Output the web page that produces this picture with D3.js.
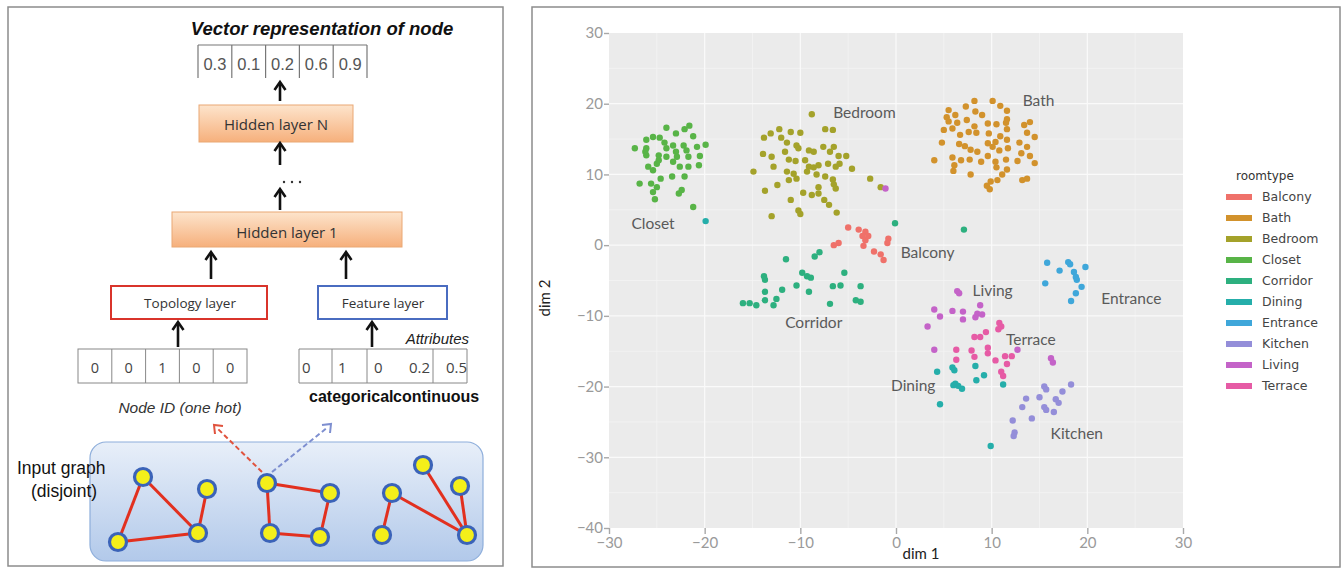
<!DOCTYPE html>
<html><head><meta charset="utf-8">
<script src="https://cdn.jsdelivr.net/npm/d3@7/dist/d3.min.js"></script>
<style>body{margin:0;background:#fff}svg{display:block}</style></head>
<body>
<svg id="c" width="1343" height="569"></svg>
<script>
// ---------------- DATA (t-SNE embedding) ----------------
const categories = ["Balcony","Bath","Bedroom","Closet","Corridor","Dining","Entrance","Kitchen","Living","Terrace"];
const colors = ["#EF716A","#D2922C","#A4A22A","#58B447","#2DB07F","#25AEAA","#3FA7DA","#948ED9","#C463C8","#E65BA5"];

const balcony = [[-5.0,2.5],[-3.9,2.2],[-3.2,1.9],[-3.5,1.3],[-3.2,0.7],[-3.4,-0.1],[-6.5,0.0],[-6.0,0.3],[-2.3,-0.9],[-1.6,-1.3],[-1.3,-2.1],[-0.8,0.9],[-0.9,0.3],[-2.9,1.3]];
const bath = [[5.5,19.1],[6.2,18.4],[7.3,19.6],[8.2,20.4],[10.1,20.4],[10.9,19.7],[11.6,19.0],[8.3,18.9],[9.0,18.4],[6.4,17.3],[7.4,17.7],[8.2,16.8],[9.6,17.2],[10.5,17.1],[11.6,17.8],[11.5,17.3],[11.6,16.4],[13.4,17.0],[14.0,17.4],[13.7,15.9],[14.5,15.3],[5.0,16.3],[5.9,16.5],[6.7,15.6],[7.6,16.0],[8.4,15.9],[9.7,15.8],[10.9,15.4],[11.6,14.9],[4.8,14.5],[6.6,14.3],[7.2,14.0],[7.8,13.5],[8.5,13.2],[9.6,14.4],[10.1,13.9],[10.4,14.6],[10.8,13.4],[11.7,13.7],[12.9,14.5],[13.7,13.9],[13.1,13.0],[14.0,12.6],[14.5,11.6],[4.0,12.0],[5.9,12.4],[6.8,12.0],[7.7,12.1],[8.9,11.8],[9.6,12.6],[10.4,11.8],[11.5,12.1],[12.7,11.9],[6.1,11.3],[6.0,10.5],[10.5,11.0],[11.6,10.7],[7.8,10.0],[11.1,10.0],[9.9,9.0],[10.6,9.2],[9.5,8.4],[9.8,7.9],[13.2,9.2],[13.7,9.4],[5.3,18.1],[5.5,17.5]];
const bedroom = [[-8.8,18.5],[-13.8,15.2],[-13.1,15.8],[-12.2,16.4],[-11.0,16.0],[-10.0,15.9],[-7.4,16.4],[-6.6,16.3],[-12.0,15.2],[-11.4,14.5],[-10.4,14.1],[-10.2,13.7],[-9.1,13.4],[-8.6,13.2],[-7.6,13.9],[-6.5,13.9],[-6.9,13.2],[-6.0,12.6],[-5.2,12.6],[-5.9,11.5],[-4.6,10.8],[-13.9,12.9],[-13.0,12.5],[-11.6,13.2],[-11.2,12.1],[-10.5,11.9],[-9.5,12.0],[-9.1,11.1],[-8.6,11.0],[-8.1,11.3],[-7.1,11.5],[-6.3,11.1],[-14.9,10.4],[-12.8,11.1],[-11.4,10.4],[-10.7,10.1],[-9.3,10.4],[-8.3,10.0],[-7.4,9.7],[-6.6,9.3],[-6.5,8.6],[-6.3,8.0],[-13.7,7.7],[-12.4,8.5],[-11.2,9.2],[-10.4,9.4],[-9.7,7.4],[-8.8,7.1],[-8.1,8.2],[-8.1,7.3],[-7.5,6.4],[-7.0,5.7],[-11.0,6.4],[-10.2,4.9],[-10.0,4.4],[-13.0,4.1],[-6.2,4.6],[-2.7,9.4],[-1.6,8.2]];
const closet = [[-27.3,13.7],[-26.1,14.9],[-26.1,13.7],[-25.4,15.3],[-24.7,15.2],[-24.0,16.6],[-23.0,15.8],[-22.1,16.4],[-21.6,16.9],[-21.2,15.4],[-24.2,14.5],[-24.0,13.7],[-23.3,14.1],[-23.0,13.2],[-22.2,14.1],[-21.9,13.4],[-21.7,12.5],[-20.8,13.9],[-19.9,14.2],[-20.5,12.6],[-20.6,11.3],[-25.9,11.1],[-25.0,11.5],[-25.4,10.6],[-24.0,12.5],[-22.9,12.5],[-22.6,11.1],[-24.6,9.4],[-23.4,9.7],[-22.1,9.7],[-26.8,8.7],[-25.6,8.7],[-25.0,8.2],[-25.4,7.5],[-25.2,6.5],[-22.4,7.8],[-22.7,7.3],[-21.2,5.4],[-26.1,12.7],[-24.8,12.7],[-24.8,12.0],[-23.3,11.8],[-21.7,11.1],[-26.2,13.2]];
const corridor = [[-8.0,-1.0],[-8.5,-1.6],[-11.5,-2.0],[-13.8,-4.4],[-13.7,-4.9],[-9.8,-3.9],[-9.3,-4.4],[-8.9,-4.6],[-10.4,-5.7],[-5.4,-3.9],[-6.6,-5.8],[-5.8,-5.7],[-3.7,-5.8],[-11.9,-6.3],[-12.5,-7.6],[-9.1,-6.6],[-13.7,-6.6],[-16.0,-8.2],[-15.3,-8.2],[-14.6,-8.5],[-13.7,-7.8],[-12.8,-8.5],[-6.9,-8.3],[-4.2,-7.8],[-3.7,-8.0],[-0.1,3.1],[7.1,2.2]];
const dining = [[-19.9,3.4],[4.3,-17.9],[5.9,-17.3],[6.1,-17.7],[8.3,-17.1],[9.2,-18.4],[8.4,-19.1],[6.2,-19.6],[6.5,-19.9],[6.9,-20.3],[6.0,-19.8],[11.2,-19.7],[4.6,-22.5],[9.9,-28.4]];
const entrance = [[15.8,-2.5],[17.1,-3.6],[18.0,-2.4],[18.2,-2.7],[18.6,-3.8],[18.8,-4.5],[18.9,-4.9],[19.8,-3.1],[15.6,-5.4],[19.4,-5.9],[18.8,-6.8],[18.3,-7.9]];
const kitchen = [[18.3,-19.7],[15.5,-20.0],[15.7,-20.4],[17.4,-20.7],[13.6,-21.7],[15.0,-21.5],[16.7,-21.8],[17.0,-22.3],[13.2,-22.9],[15.5,-22.9],[15.7,-23.3],[16.5,-23.6],[14.2,-24.5],[12.2,-24.8],[12.4,-26.5],[12.3,-27.0]];
const living = [[-1.1,8.0],[6.4,-6.5],[6.6,-6.8],[8.8,-8.5],[4.0,-9.1],[4.6,-10.1],[5.9,-9.3],[7.0,-9.4],[7.0,-10.5],[8.5,-9.7],[9.0,-9.8],[8.3,-10.2],[3.3,-11.5],[4.0,-14.8],[12.7,-14.8],[16.2,-16.0],[16.4,-16.6]];
const terrace = [[10.8,-11.0],[11.0,-11.5],[10.7,-11.9],[8.2,-13.0],[8.8,-13.0],[9.4,-12.3],[6.3,-14.8],[6.3,-16.2],[7.9,-14.9],[8.2,-15.8],[9.6,-14.5],[9.6,-15.3],[10.4,-16.3],[11.4,-15.7],[12.1,-15.7],[11.6,-16.8],[11.0,-17.9],[11.2,-18.5]];

const xTicks = [-30,-20,-10,0,10,20,30];
const yTicks = [-40,-30,-20,-10,0,10,20,30];
const labelNames = ["Closet","Bedroom","Bath","Balcony","Living","Entrance","Corridor","Terrace","Dining","Kitchen"];
const labelX = [-25.4,-3.3,14.9,3.3,10.1,24.6,-8.6,14.1,1.8,18.9];
const labelY = [3.1,18.7,20.4,-1.0,-6.4,-7.6,-11.0,-13.3,-19.9,-26.7];

const vectorValues = ["0.3","0.1","0.2","0.6","0.9"];
const oneHot = ["0","0","1","0","0"];
const attrValues = ["0","1","0","0.2","0.5"];

const seriesPts = [balcony,bath,bedroom,closet,corridor,dining,entrance,kitchen,living,terrace];

// ---------------- DRAW ----------------
const svg = d3.select("#c");
const defs = svg.append("defs");
const g1 = defs.append("linearGradient").attr("id","hid").attr("x1",0).attr("y1",0).attr("x2",0).attr("y2",1);
g1.append("stop").attr("offset","0%").attr("stop-color","#fde4cc");
g1.append("stop").attr("offset","100%").attr("stop-color","#f6b07c");
const g2 = defs.append("linearGradient").attr("id","inp").attr("x1",0).attr("y1",0).attr("x2",0).attr("y2",1);
g2.append("stop").attr("offset","0%").attr("stop-color","#e8eff9");
g2.append("stop").attr("offset","100%").attr("stop-color","#b2c9ea");

// frames
svg.append("rect").attr("x",8).attr("y",7).attr("width",495).attr("height",559).attr("fill","none").attr("stroke","#8c8c8c").attr("stroke-width",1.5);
svg.append("rect").attr("x",532).attr("y",7).attr("width",808).attr("height",560).attr("fill","none").attr("stroke","#8c8c8c").attr("stroke-width",1.5);

// ---------- left diagram ----------
const L = svg.append("g");
const sans = "'Liberation Sans', Arial, sans-serif";
const soft = "'Open Sans', 'Noto Sans', sans-serif";
L.append("text").attr("x",322).attr("y",35).attr("text-anchor","middle").attr("font-family",sans)
 .attr("font-size",18.5).attr("font-weight","bold").attr("font-style","italic").attr("fill","#111").text("Vector representation of node");

function arrow(x, y1, y2){
  L.append("line").attr("x1",x).attr("x2",x).attr("y1",y1).attr("y2",y2+2).attr("stroke","#111").attr("stroke-width",2.6);
  L.append("path").attr("d",`M${x-5.5},${y2+8} L${x},${y2} L${x+5.5},${y2+8}`).attr("fill","none").attr("stroke","#111").attr("stroke-width",2.6);
}
// output vector
const vx = d3.scaleLinear().domain([0,5]).range([198,367]);
L.append("line").attr("x1",198).attr("x2",367).attr("y1",45).attr("y2",45).attr("stroke","#777").attr("stroke-width",1.2);
d3.range(6).forEach(i=>L.append("line").attr("x1",vx(i)).attr("x2",vx(i)).attr("y1",45).attr("y2",78).attr("stroke","#777").attr("stroke-width",1.2));
vectorValues.forEach((v,i)=>L.append("text").attr("x",vx(i+0.5)).attr("y",70).attr("text-anchor","middle").attr("font-family",sans).attr("font-size",16.5).attr("fill","#555").text(v));
arrow(280,101,82);
L.append("rect").attr("x",199).attr("y",105).attr("width",154).attr("height",37).attr("fill","url(#hid)").attr("stroke","#eaa874").attr("stroke-width",1);
L.append("text").attr("x",276).attr("y",130).attr("text-anchor","middle").attr("font-family",soft).attr("font-size",15).attr("fill","#333").text("Hidden layer N");
arrow(280,165,143);
[284,292,300].forEach(x=>L.append("circle").attr("cx",x).attr("cy",182).attr("r",1.2).attr("fill","#333"));
arrow(280,210,189);
L.append("rect").attr("x",172).attr("y",212).attr("width",230).attr("height",35).attr("fill","url(#hid)").attr("stroke","#eaa874").attr("stroke-width",1);
L.append("text").attr("x",287).attr("y",238).attr("text-anchor","middle").attr("font-family",soft).attr("font-size",15).attr("fill","#333").text("Hidden layer 1");
arrow(211,279,252);
arrow(346,279,252);
L.append("rect").attr("x",111).attr("y",286).attr("width",156).attr("height",33).attr("fill","#fff").attr("stroke","#d9342b").attr("stroke-width",2);
L.append("text").attr("x",190).attr("y",308).attr("text-anchor","middle").attr("font-family",soft).attr("font-size",13.5).attr("fill","#333").text("Topology layer");
L.append("rect").attr("x",318).attr("y",286).attr("width",129).attr("height",33).attr("fill","#fff").attr("stroke","#4a6cc0").attr("stroke-width",2);
L.append("text").attr("x",383).attr("y",308).attr("text-anchor","middle").attr("font-family",soft).attr("font-size",13.5).attr("fill","#333").text("Feature layer");
arrow(178,347,322);
arrow(372,347,322);
L.append("text").attr("x",469).attr("y",344).attr("text-anchor","end").attr("font-family",sans).attr("font-size",15).attr("font-style","italic").attr("fill","#222").text("Attributes");
// one hot vector
const ox = d3.scaleLinear().domain([0,5]).range([78,247]);
L.append("rect").attr("x",78).attr("y",349).attr("width",169).attr("height",34).attr("fill","#fff").attr("stroke","#888").attr("stroke-width",1);
d3.range(1,5).forEach(i=>L.append("line").attr("x1",ox(i)).attr("x2",ox(i)).attr("y1",349).attr("y2",383).attr("stroke","#888"));
oneHot.forEach((v,i)=>L.append("text").attr("x",ox(i+0.5)).attr("y",373).attr("text-anchor","middle").attr("font-family",soft).attr("font-size",14.5).attr("fill","#444").text(v));
// attribute vector
const attrDiv = [299,332,367,433,467];
L.append("line").attr("x1",299).attr("x2",467).attr("y1",349).attr("y2",349).attr("stroke","#888");
L.append("line").attr("x1",299).attr("x2",467).attr("y1",383).attr("y2",383).attr("stroke","#888");
attrDiv.forEach(x=>L.append("line").attr("x1",x).attr("x2",x).attr("y1",349).attr("y2",383).attr("stroke","#888"));
const attrTx = [302,338,374,409,446];
attrValues.forEach((v,i)=>L.append("text").attr("x",attrTx[i]).attr("y",373).attr("font-family",soft).attr("font-size",15).attr("fill","#444").text(v));
L.append("text").attr("x",180).attr("y",413).attr("text-anchor","middle").attr("font-family",sans).attr("font-size",15.5).attr("font-style","italic").attr("fill","#333").text("Node ID (one hot)");
L.append("text").attr("x",309).attr("y",402).attr("font-family",sans).attr("font-size",16).attr("font-weight","bold").attr("fill","#111").text("categorical");
L.append("text").attr("x",393).attr("y",402).attr("font-family",sans).attr("font-size",16).attr("font-weight","bold").attr("fill","#111").text("continuous");
// input graph box
L.append("rect").attr("x",90).attr("y",442).attr("width",393).attr("height",119).attr("rx",16).attr("fill","url(#inp)").attr("stroke","#8eaedb").attr("stroke-width",1.2);
L.append("text").attr("x",17).attr("y",474).attr("font-family",sans).attr("font-size",17.5).attr("fill","#111").text("Input graph");
L.append("text").attr("x",31).attr("y",497).attr("font-family",sans).attr("font-size",17.5).attr("fill","#111").text("(disjoint)");
// dashed arrows
L.append("line").attr("x1",262).attr("y1",472).attr("x2",217).attr("y2",428).attr("stroke","#e0533e").attr("stroke-width",2).attr("stroke-dasharray","5,3");
L.append("path").attr("d","M215,434 L214,425 L223,426").attr("fill","none").attr("stroke","#e0533e").attr("stroke-width",2);
L.append("line").attr("x1",272).attr("y1",472).attr("x2",328).attr("y2",427).attr("stroke","#7e8fd0").attr("stroke-width",2).attr("stroke-dasharray","5,3");
L.append("path").attr("d","M322,425 L331,424 L330,433").attr("fill","none").attr("stroke","#7e8fd0").attr("stroke-width",2);
// graphs
const gNodes = [[143,477],[118,542],[198,533],[207,489],[267,483],[330,493],[270,533],[320,537],[423,465],[392,493],[460,486],[382,535],[467,535]];
const gEdges = [[0,1],[0,2],[1,2],[2,3],[4,5],[4,6],[6,7],[5,7],[8,12],[9,12],[10,12],[9,11]];
gEdges.forEach(e=>L.append("line").attr("x1",gNodes[e[0]][0]).attr("y1",gNodes[e[0]][1]).attr("x2",gNodes[e[1]][0]).attr("y2",gNodes[e[1]][1]).attr("stroke","#e2301f").attr("stroke-width",3));
gNodes.forEach(n=>L.append("circle").attr("cx",n[0]).attr("cy",n[1]).attr("r",8.5).attr("fill","#f4ef1a").attr("stroke","#3b63b8").attr("stroke-width",3.2));

// ---------- right scatter ----------
const x = d3.scaleLinear().domain([-30,30]).range([609,1183]);
const y = d3.scaleLinear().domain([-40,30]).range([528,33]);
const R = svg.append("g");
R.append("rect").attr("x",x(-30)).attr("y",y(30)).attr("width",x(30)-x(-30)).attr("height",y(-40)-y(30)).attr("fill","#ebebeb");
d3.range(-25,30,10).forEach(v=>R.append("line").attr("x1",x(v)).attr("x2",x(v)).attr("y1",y(30)).attr("y2",y(-40)).attr("stroke","#f4f4f4").attr("stroke-width",0.8));
d3.range(-35,30,10).forEach(v=>R.append("line").attr("y1",y(v)).attr("y2",y(v)).attr("x1",x(-30)).attr("x2",x(30)).attr("stroke","#f4f4f4").attr("stroke-width",0.8));
xTicks.slice(1,-1).forEach(v=>R.append("line").attr("x1",x(v)).attr("x2",x(v)).attr("y1",y(30)).attr("y2",y(-40)).attr("stroke","#fafafa").attr("stroke-width",1.2));
yTicks.slice(1,-1).forEach(v=>R.append("line").attr("y1",y(v)).attr("y2",y(v)).attr("x1",x(-30)).attr("x2",x(30)).attr("stroke","#fafafa").attr("stroke-width",1.2));

const tickFont = "Lato, 'Open Sans', sans-serif";
const fmt = d => d < 0 ? "\u2212" + Math.abs(d) : String(d);
const xa = R.append("g").attr("transform",`translate(0,${y(-40)})`).call(d3.axisBottom(x).tickValues(xTicks).tickSize(6).tickPadding(3).tickFormat(fmt));
const ya = R.append("g").attr("transform",`translate(${x(-30)},0)`).call(d3.axisLeft(y).tickValues(yTicks).tickSize(5).tickPadding(1).tickFormat(fmt));
[xa,ya].forEach(a=>{a.select(".domain").remove();a.selectAll("line").attr("stroke","#a8a8a8").attr("stroke-width",1.4);
  a.selectAll("text").attr("fill","#9a9a9a").attr("font-family",tickFont).attr("font-size",15);});

seriesPts.forEach((pts,i)=>{
  R.append("g").selectAll("circle").data(pts).join("circle")
   .attr("cx",d=>x(d[0])).attr("cy",d=>y(d[1])).attr("r",3.2).attr("fill",colors[i]);
});
labelNames.forEach((n,i)=>R.append("text").attr("x",x(labelX[i])).attr("y",y(labelY[i])).attr("dy","0.35em")
  .attr("text-anchor","middle").attr("font-family",tickFont).attr("font-size",15.5).attr("fill","#5a5a5a").text(n));

R.append("text").attr("x",921).attr("y",559).attr("text-anchor","middle").attr("font-family",tickFont).attr("font-size",15).attr("fill","#222").text("dim 1");
R.append("text").attr("transform","translate(550,298) rotate(-90)").attr("text-anchor","middle").attr("font-family",tickFont).attr("font-size",15).attr("fill","#222").text("dim 2");

// legend
const lg = R.append("g");
const ly = d3.scalePoint().domain(categories).range([197,386]);
lg.append("text").attr("x",1236).attr("y",180).attr("font-family","'DejaVu Sans', sans-serif").attr("font-size",12).attr("fill","#333").text("roomtype");
categories.forEach((c,i)=>{
  lg.append("rect").attr("x",1226).attr("y",ly(c)-3).attr("width",26).attr("height",6).attr("fill",colors[i]);
  lg.append("text").attr("x",1262).attr("y",ly(c)).attr("dy","0.35em").attr("font-family","'DejaVu Sans', sans-serif").attr("font-size",12.5).attr("fill","#444").text(c);
});
</script>
</body></html>
